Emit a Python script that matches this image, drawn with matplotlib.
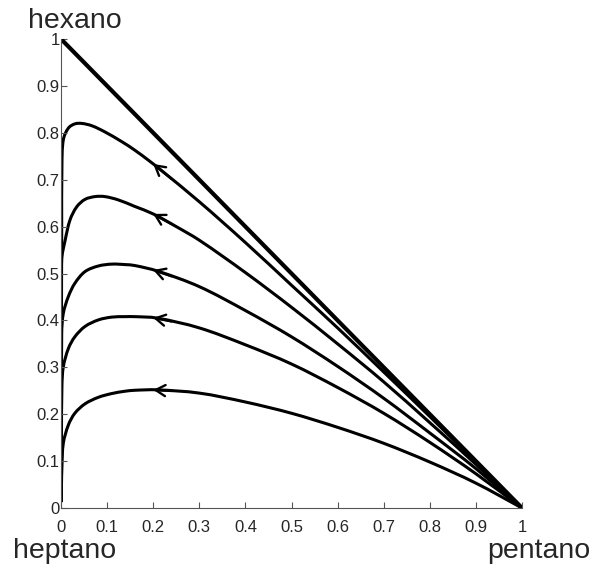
import numpy as np
import matplotlib
matplotlib.use("Agg")
import matplotlib.pyplot as plt
from matplotlib.path import Path
from matplotlib.patches import PathPatch

plt.rcParams['font.family'] = ['Liberation Sans', 'DejaVu Sans']

# Residue curves: x = pentano fraction, y = hexano fraction
edge_x = [0.0, 1.0]
edge_y = [1.0, 0.0]

curve_a_x = [0.0005, 0.0008, 0.001, 0.0015, 0.002, 0.005, 0.016, 0.030, 0.045, 0.067, 0.095,
             0.132, 0.16, 0.193, 0.215, 0.3, 0.4, 0.5, 0.6, 0.7, 0.8, 0.9, 1.0]
curve_a_y = [0.015, 0.2, 0.4, 0.6, 0.728, 0.785, 0.81, 0.819, 0.820, 0.815, 0.802,
             0.781, 0.763, 0.739, 0.722, 0.653, 0.566, 0.475, 0.384, 0.29, 0.195, 0.098, 0.0]

curve_b_x = [0.0005, 0.0008, 0.001, 0.0014, 0.009, 0.0195, 0.034, 0.052, 0.074, 0.095, 0.124,
             0.16, 0.2, 0.25, 0.3, 0.4, 0.5, 0.6, 0.7, 0.8, 0.9, 1.0]
curve_b_y = [0.015, 0.2, 0.4, 0.529, 0.571, 0.614, 0.642, 0.658, 0.664, 0.664, 0.657,
             0.643, 0.627, 0.60, 0.571, 0.502, 0.428, 0.35, 0.269, 0.182, 0.093, 0.0]

curve_c_x = [0.0005, 0.0008, 0.0015, 0.005, 0.016, 0.030, 0.052, 0.081, 0.110, 0.139, 0.16,
             0.21, 0.3, 0.4, 0.5, 0.6, 0.7, 0.8, 0.9, 1.0]
curve_c_y = [0.015, 0.15, 0.372, 0.415, 0.451, 0.479, 0.504, 0.516, 0.520, 0.519, 0.517,
             0.505, 0.472, 0.421, 0.365, 0.302, 0.234, 0.16, 0.084, 0.0]

curve_d_x = [0.0005, 0.001, 0.002, 0.005, 0.016, 0.030, 0.052, 0.081, 0.110, 0.139, 0.16,
             0.208, 0.3, 0.4, 0.5, 0.6, 0.7, 0.8, 0.9, 1.0]
curve_d_y = [0.015, 0.15, 0.259, 0.301, 0.340, 0.365, 0.387, 0.401, 0.407, 0.408, 0.408,
             0.405, 0.384, 0.348, 0.307, 0.257, 0.202, 0.14, 0.073, 0.0]

curve_e_x = [0.0005, 0.001, 0.002, 0.005, 0.016, 0.030, 0.052, 0.081, 0.110, 0.139, 0.16,
             0.208, 0.3, 0.4, 0.5, 0.6, 0.7, 0.8, 0.9, 1.0]
curve_e_y = [0.015, 0.05, 0.088, 0.138, 0.177, 0.202, 0.222, 0.236, 0.244, 0.249, 0.251,
             0.252, 0.245, 0.226, 0.202, 0.172, 0.138, 0.098, 0.053, 0.0]

ticks = [0, 0.1, 0.2, 0.3, 0.4, 0.5, 0.6, 0.7, 0.8, 0.9, 1]
tick_labels = ['0', '0.1', '0.2', '0.3', '0.4', '0.5', '0.6', '0.7', '0.8', '0.9', '1']


def smooth_path(xs, ys):
    """Cubic Bezier path through the given points (chord-scaled tangents)."""
    p = np.column_stack([xs, ys]).astype(float)
    n = len(p)
    tang = np.zeros_like(p)
    for i in range(n):
        d = p[min(i + 1, n - 1)] - p[max(i - 1, 0)]
        tang[i] = d / (np.hypot(*d) or 1.0)
    verts = [p[0]]
    codes = [Path.MOVETO]
    for i in range(n - 1):
        L = np.hypot(*(p[i + 1] - p[i])) / 3.0
        verts += [p[i] + tang[i] * L, p[i + 1] - tang[i + 1] * L, p[i + 1]]
        codes += [Path.CURVE4] * 3
    return Path(verts, codes)


fig = plt.figure(figsize=(5.93, 5.68), dpi=100)
ax = fig.add_axes([61 / 593, 1 - 508 / 568, 461 / 593, 469 / 568])

ax.plot(edge_x, edge_y, color='black', lw=3.0, solid_capstyle='round')
curves = [(curve_a_x, curve_a_y), (curve_b_x, curve_b_y), (curve_c_x, curve_c_y),
          (curve_d_x, curve_d_y), (curve_e_x, curve_e_y)]
for cx, cy in curves:
    ax.add_patch(PathPatch(smooth_path(cx, cy), facecolor='none', edgecolor='black',
                           lw=2.2, joinstyle='round', capstyle='round'))
    # direction arrow pointing towards heptano
    tip = (0.2, np.interp(0.2, cx, cy))
    tail = (0.24, np.interp(0.24, cx, cy))
    ax.annotate('', xy=tip, xytext=tail,
                arrowprops=dict(arrowstyle='->,head_length=0.7,head_width=0.4',
                                color='black', lw=1.7, shrinkA=0, shrinkB=0,
                                mutation_scale=10))

ax.set_xlim(0, 1)
ax.set_ylim(0, 1)
ax.set_xticks(ticks)
ax.set_xticklabels(tick_labels)
ax.set_yticks(ticks)
ax.set_yticklabels(tick_labels)
for side in ['top', 'right']:
    ax.spines[side].set_visible(False)
for side in ['left', 'bottom']:
    ax.spines[side].set_color('#555555')
    ax.spines[side].set_linewidth(0.8)
ax.tick_params(direction='in', length=4, width=0.8, color='#555555',
               labelcolor='#262626', labelsize=12)
ax.tick_params(axis='x', pad=8.5)
ax.tick_params(axis='y', pad=1)

label_kw = dict(fontsize=20.5, color='#262626')
fig.text(28 / 593, 1 - 28 / 568, 'hexano', ha='left', va='baseline', **label_kw)
fig.text(13 / 593, 1 - 558 / 568, 'heptano', ha='left', va='baseline', **label_kw)
fig.text(590 / 593, 1 - 558 / 568, 'pentano', ha='right', va='baseline', **label_kw)

fig.savefig('out.png', dpi=100)
